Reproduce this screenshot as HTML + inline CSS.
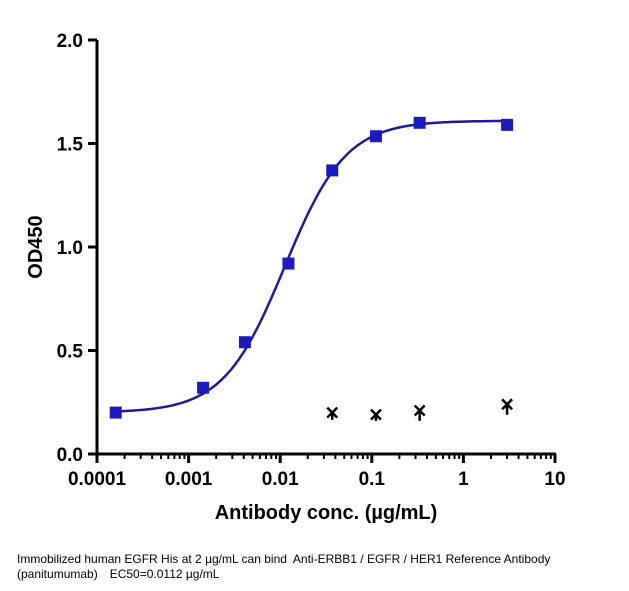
<!DOCTYPE html>
<html><head><meta charset="utf-8"><style>
body{margin:0;background:#fff;width:629px;height:591px;overflow:hidden;font-family:"Liberation Sans",Arial,sans-serif}
svg text{font-family:"Liberation Sans",Arial,sans-serif}
.cap{position:absolute;left:17px;top:552px;font-size:12px;line-height:15px;color:#000;width:610px}
</style></head><body>
<svg id="c" width="629" height="591" style="position:absolute;left:0;top:0"></svg>
<div class="cap">Immobilized human EGFR His at 2 µg/mL can bind&nbsp; Anti-ERBB1 / EGFR / HER1 Reference Antibody (panitumumab)　EC50=0.0112 µg/mL</div>
<script>
const concs=[0.00016,0.00144,0.00412,0.0123,0.037,0.111,0.333,3];
const odVals=[0.20,0.32,0.54,0.92,1.37,1.535,1.60,1.59];
const negConcs=[0.037,0.111,0.333,3];
const negVals=[0.20,0.19,0.21,0.24];
const negErr=[0.035,0.03,0.05,0.05];
const yTicks=[0,0.5,1.0,1.5,2.0];
const yTickLabels=["0.0","0.5","1.0","1.5","2.0"];
const xTicks=[0.0001,0.001,0.01,0.1,1,10];
const xTickLabels=["0.0001","0.001","0.01","0.1","1","10"];
const fitBottom=0.2,fitTop=1.61,fitEC50=0.0112,fitHill=1.3;

const NS="http://www.w3.org/2000/svg",svg=document.getElementById('c');
const X0=97,X1=555,Y0=454,Y1=40;
const xs=v=>X0+(Math.log10(v)+4)/5*(X1-X0);
const ys=v=>Y0-v/2*(Y0-Y1);
function mk(t,a,p){const e=document.createElementNS(NS,t);for(const k in a)e.setAttribute(k,a[k]);(p||svg).appendChild(e);return e;}
let e=mk('line',{x1:X0,y1:Y0,x2:X1+1,y2:Y0,stroke:'#000','stroke-width':3});

e=mk('line',{x1:X0,y1:Y0+1.5,x2:X0,y2:Y1,stroke:'#000','stroke-width':3});

yTicks.forEach((t,i)=>{const y=ys(t);
 e=mk('line',{x1:X0-9,y1:y,x2:X0,y2:y,stroke:'#000','stroke-width':3});
 
 e=mk('text',{x:X0-14,y:y+7,'text-anchor':'end','font-size':19,'font-weight':'bold'});e.textContent=yTickLabels[i];
 });
xTicks.forEach((t,i)=>{const x=xs(t);
 e=mk('line',{x1:x,y1:Y0,x2:x,y2:Y0+9,stroke:'#000','stroke-width':3});
 
 e=mk('text',{x:x,y:Y0+31,'text-anchor':'middle','font-size':19,'font-weight':'bold'});e.textContent=xTickLabels[i];
 
 if(i<xTicks.length-1){for(let m=2;m<10;m++){const mx=xs(t*m);
  e=mk('line',{x1:mx,y1:Y0,x2:mx,y2:Y0+5,stroke:'#000','stroke-width':2});
  }}});
e=mk('text',{x:326,y:519,'text-anchor':'middle','font-size':20,'font-weight':'bold'});e.textContent='Antibody conc. (µg/mL)';

e=mk('text',{x:42,y:247,'text-anchor':'middle','font-size':20,'font-weight':'bold',transform:'rotate(-90 42 247)'});e.textContent='OD450';

let d='';for(let i=0;i<=200;i++){const lx=Math.log10(concs[0])+i/200*(Math.log10(concs[concs.length-1])-Math.log10(concs[0]));
 const v=fitBottom+(fitTop-fitBottom)/(1+Math.pow(fitEC50/Math.pow(10,lx),fitHill));d+=(i?'L':'M')+xs(Math.pow(10,lx)).toFixed(1)+' '+ys(v).toFixed(1);}
e=mk('path',{d:d,fill:'none',stroke:'#1a1aa6','stroke-width':2.5});

concs.forEach((c,i)=>{e=mk('rect',{x:xs(c)-6,y:ys(odVals[i])-6,width:12,height:12,fill:'#1a1ac0'});
 });
negConcs.forEach((c,i)=>{const x=xs(c),y=ys(negVals[i]);
 const g=mk('g',{stroke:'#000','stroke-width':2.5});
 
 mk('line',{x1:x-5,y1:y-5,x2:x+5,y2:y+5},g);mk('line',{x1:x+5,y1:y-5,x2:x-5,y2:y+5},g);
 mk('line',{x1:x,y1:y,x2:x,y2:y+negErr[i]*207},g);});
</script>
</body></html>
